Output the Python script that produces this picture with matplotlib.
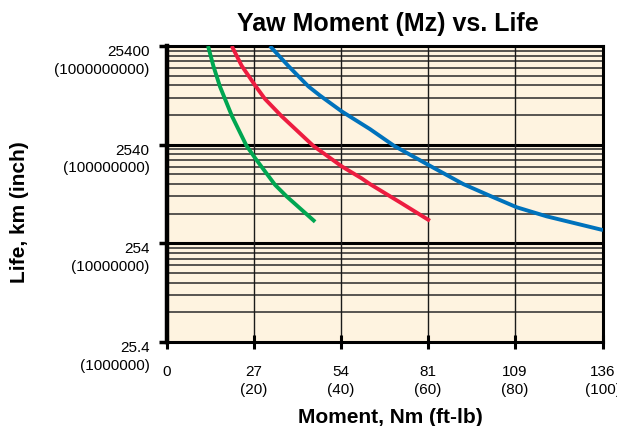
import matplotlib
matplotlib.use("Agg")
import matplotlib.pyplot as plt
import matplotlib.transforms as mtransforms

plt.rcParams['font.family'] = ['Liberation Sans', 'DejaVu Sans']

# Data (moment in Nm, life in km)
green_m = [12.8, 14.45, 16.5, 20.3, 24.8, 27.7, 33.7, 37.3, 46.2]
green_l = [25400, 16000, 9896, 4918, 2476, 1816, 995, 760, 420]
red_m = [20.2, 23.3, 27.7, 30.6, 35.8, 45.6, 54.5, 60.7, 63.3, 72.7, 82.0]
red_l = [25400, 16000, 9896, 7359, 4918, 2476, 1531, 1158, 1013, 661, 430]
blue_m = [32.1, 37.8, 44.1, 47.7, 54.5, 63.3, 70.8, 82.0, 92.4, 100.7, 109.1, 118.4, 136.0]
blue_l = [25400, 16000, 9896, 8000, 5522, 3655, 2476, 1552, 1013, 771, 589, 477, 346]

x_ticks_ftlb = [0, 20, 40, 60, 80, 100]
x_tick_labels = ["0", "27\n(20)", "54\n(40)", "81\n(60)", "109\n(80)", "136\n(100)"]
y_ticks = [25.4, 254, 2540, 25400]
y_tick_labels = ["25.4\n(1000000)", "254\n(10000000)", "2540\n(100000000)", "25400\n(1000000000)"]

fig = plt.figure(figsize=(6.17, 4.27), dpi=100)
ax = fig.add_axes([167/617, 1-343/427, (603-167)/617, (343-47)/427])
ax.set_facecolor('#FEF3E0')
ax.set_yscale('log')
ax.set_xlim(0, 136)
ax.set_ylim(25.4, 25400)

xt = [v * 1.3558 for v in x_ticks_ftlb]
xt[-1] = 136
# grid
for base in [25.4, 254, 2540]:
    for k in range(2, 10):
        ax.axhline(base * k, color='#2a2a2a', lw=1.1, zorder=1)
for yv in [254, 2540]:
    ax.axhline(yv, color='black', lw=2.2, zorder=1)
for xv in xt[1:-1]:
    ax.axvline(xv, color='#1a1a1a', lw=1.0, zorder=1)

for m, l, c in [(green_m, green_l, '#00A651'), (red_m, red_l, '#ED1C40'), (blue_m, blue_l, '#0072BC')]:
    ax.plot(m, l, color=c, lw=2.8, zorder=3, solid_capstyle='butt', solid_joinstyle='round')

ax.set_xticks(xt)
ax.set_xticklabels(x_tick_labels, fontsize=11, linespacing=1.35)
ax.set_yticks(y_ticks)
ax.set_yticklabels(y_tick_labels, fontsize=11, linespacing=1.35)
ax.yaxis.set_minor_locator(matplotlib.ticker.NullLocator())
ax.tick_params(axis='x', direction='inout', length=10, width=2.2, pad=11)
ax.tick_params(axis='y', direction='out', length=6, width=2.5, pad=6.5)
off = mtransforms.ScaledTranslation(0, 1.5/72, fig.dpi_scale_trans)
for lab in ax.get_yticklabels():
    lab.set_va('top')
    lab.set_transform(lab.get_transform() + off)

ax.spines['left'].set_linewidth(3.2)
for s in ['bottom', 'right', 'top']:
    ax.spines[s].set_linewidth(2.2)

fig.text(390/617, 1-418/427, "Moment, Nm (ft-lb)", fontsize=15, fontweight='bold', ha='center', va='center')
fig.text(20/617, 1-212/427, "Life, km (inch)", fontsize=15, fontweight='bold', ha='center', va='center', rotation=90)
fig.text(388/617, 1-24/427, "Yaw Moment (Mz) vs. Life", fontsize=18, fontweight='bold', ha='center', va='center')

fig.savefig("out.png", dpi=100)
